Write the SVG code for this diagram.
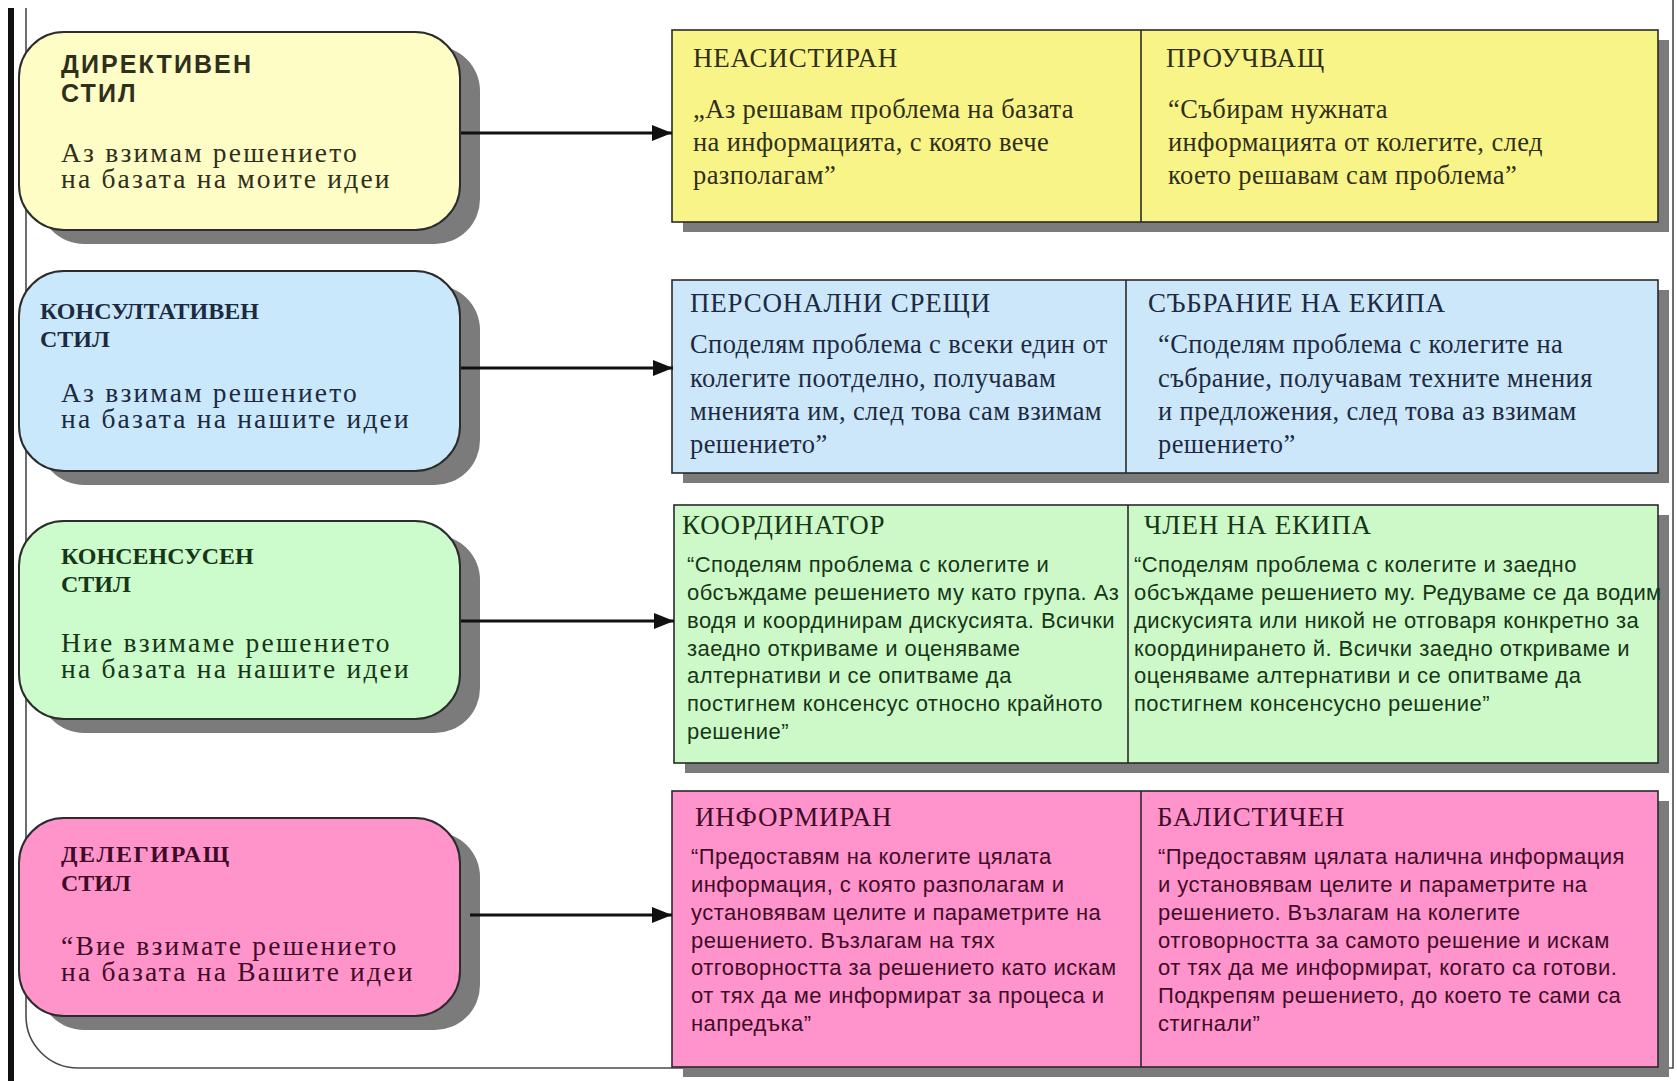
<svg xmlns="http://www.w3.org/2000/svg" width="1677" height="1081" viewBox="0 0 1677 1081">
<style>
.bg{fill:#ffffff}
.frame{fill:none;stroke:#4a4a4a;stroke-width:1.6}
.bar{fill:#111111}
.shadow{fill:#7b7b7b}
.node{stroke:#2c2c2c;stroke-width:2}
.box{stroke:#2a2a2a;stroke-width:1.6}
.div{stroke:#2a2a2a;stroke-width:1.6}
.title{font-family:"Liberation Serif","DejaVu Serif",serif;font-weight:bold;font-size:24px}
.title-sans{font-family:"Liberation Sans","DejaVu Sans",sans-serif;font-weight:bold;font-size:25px;letter-spacing:2.1px}
.lbody{font-family:"Liberation Serif","DejaVu Serif",serif;font-size:27.5px;letter-spacing:2.2px}
.head{font-family:"Liberation Serif","DejaVu Serif",serif;font-size:27px;letter-spacing:0.8px}
.sbody{font-family:"Liberation Serif","DejaVu Serif",serif;font-size:26.5px;letter-spacing:0.4px}
.nbody{font-family:"Liberation Sans","DejaVu Sans",sans-serif;font-size:22px;letter-spacing:0.45px}
.arrow{fill:none;stroke:#111111;stroke-width:3}
.y-t{fill:#2f2f1c}.b-t{fill:#1d2a40}.g-t{fill:#173617}.p-t{fill:#3f0c27}
</style>
<defs>
<marker id="ah" markerUnits="userSpaceOnUse" markerWidth="20" markerHeight="16" refX="20" refY="8" orient="auto">
<path d="M0,0 L20,8 L0,16 z" fill="#111111"/>
</marker>
</defs>
<rect class="bg" x="0" y="0" width="1677" height="1081"/>

<g id="frame">
<rect class="bar" x="8" y="8" width="6" height="1073"/>
<path class="frame" d="M26,8 V1016 A52,52 0 0 0 78,1068 H1673 V0"/>
</g>

<g id="node-directive">
<rect class="shadow" x="39" y="46" width="441" height="198" rx="45"/>
<rect class="node" x="19" y="32" width="441" height="198" rx="45" fill="#FFFDC6"/>
<text class="title-sans y-t" x="61" y="73">ДИРЕКТИВЕН</text>
<text class="title-sans y-t" x="61" y="102">СТИЛ</text>
<text class="lbody y-t" x="61" y="162">Аз взимам решението<tspan x="61" dy="26">на базата на моите идеи</tspan></text>
</g>

<g id="node-consultative">
<rect class="shadow" x="39" y="285" width="441" height="200" rx="45"/>
<rect class="node" x="19" y="271" width="441" height="200" rx="45" fill="#C9E8FB"/>
<text class="title b-t" x="40" y="319">КОНСУЛТАТИВЕН</text>
<text class="title b-t" x="40" y="347">СТИЛ</text>
<text class="lbody b-t" x="61" y="402">Аз взимам решението<tspan x="61" dy="26">на базата на нашите идеи</tspan></text>
</g>

<g id="node-consensus">
<rect class="shadow" x="39" y="535" width="441" height="198" rx="45"/>
<rect class="node" x="19" y="521" width="441" height="198" rx="45" fill="#CCFBCC"/>
<text class="title g-t" x="61" y="564">КОНСЕНСУСЕН</text>
<text class="title g-t" x="61" y="592">СТИЛ</text>
<text class="lbody g-t" x="61" y="652">Ние взимаме решението<tspan x="61" dy="26">на базата на нашите идеи</tspan></text>
</g>

<g id="node-delegating">
<rect class="shadow" x="39" y="832" width="441" height="198" rx="45"/>
<rect class="node" x="19" y="818" width="441" height="198" rx="45" fill="#FF94CB"/>
<text class="title p-t" x="61" y="862" letter-spacing="1.6">ДЕЛЕГИРАЩ</text>
<text class="title p-t" x="61" y="891">СТИЛ</text>
<text class="lbody p-t" x="61" y="955">“Вие взимате решението<tspan x="61" dy="26">на базата на Вашите идеи</tspan></text>
</g>

<g id="box-directive">
<rect class="shadow" x="683" y="40" width="986" height="192"/>
<rect class="box" x="672" y="30" width="986" height="192" fill="#F9F487"/>
<line class="div" x1="1141" y1="30" x2="1141" y2="222"/>
<text class="head y-t" x="693" y="67">НЕАСИСТИРАН</text>
<text class="sbody y-t" x="693" y="118">„Аз решавам проблема на базата</text>
<text class="sbody y-t" x="693" y="151">на информацията, с която вече</text>
<text class="sbody y-t" x="693" y="184">разполагам”</text>
<text class="head y-t" x="1166" y="67">ПРОУЧВАЩ</text>
<text class="sbody y-t" x="1168" y="118">“Събирам нужната</text>
<text class="sbody y-t" x="1168" y="151">информацията от колегите, след</text>
<text class="sbody y-t" x="1168" y="184">което решавам сам проблема”</text>
</g>

<g id="box-consultative">
<rect class="shadow" x="683" y="290" width="986" height="193"/>
<rect class="box" x="672" y="280" width="986" height="193" fill="#CCE7FA"/>
<line class="div" x1="1126" y1="280" x2="1126" y2="473"/>
<text class="head b-t" x="690" y="312">ПЕРСОНАЛНИ СРЕЩИ</text>
<text class="sbody b-t" x="690" y="353">Споделям проблема с всеки един от</text>
<text class="sbody b-t" x="690" y="387">колегите поотделно, получавам</text>
<text class="sbody b-t" x="690" y="420">мненията им, след това сам взимам</text>
<text class="sbody b-t" x="690" y="453">решението”</text>
<text class="head b-t" x="1148" y="312">СЪБРАНИЕ НА ЕКИПА</text>
<text class="sbody b-t" x="1158" y="353">“Споделям проблема с колегите на</text>
<text class="sbody b-t" x="1158" y="387">събрание, получавам техните мнения</text>
<text class="sbody b-t" x="1158" y="420">и предложения, след това аз взимам</text>
<text class="sbody b-t" x="1158" y="453">решението”</text>
</g>

<g id="box-consensus">
<rect class="shadow" x="685" y="515" width="984" height="258"/>
<rect class="box" x="674" y="505" width="984" height="258" fill="#CDF9C9"/>
<line class="div" x1="1128" y1="505" x2="1128" y2="763"/>
<text class="head g-t" x="682" y="534">КООРДИНАТОР</text>
<text class="nbody g-t" x="687" y="572">“Споделям проблема с колегите и</text>
<text class="nbody g-t" x="687" y="600">обсъждаме решението му като група. Аз</text>
<text class="nbody g-t" x="687" y="628">водя и координирам дискусията. Всички</text>
<text class="nbody g-t" x="687" y="656">заедно откриваме и оценяваме</text>
<text class="nbody g-t" x="687" y="683">алтернативи и се опитваме да</text>
<text class="nbody g-t" x="687" y="711">постигнем консенсус относно крайното</text>
<text class="nbody g-t" x="687" y="739">решение”</text>
<text class="head g-t" x="1144" y="534">ЧЛЕН НА ЕКИПА</text>
<text class="nbody g-t" x="1134" y="572">“Споделям проблема с колегите и заедно</text>
<text class="nbody g-t" x="1134" y="600">обсъждаме решението му. Редуваме се да водим</text>
<text class="nbody g-t" x="1134" y="628">дискусията или никой не отговаря конкретно за</text>
<text class="nbody g-t" x="1134" y="656">координирането й. Всички заедно откриваме и</text>
<text class="nbody g-t" x="1134" y="683">оценяваме алтернативи и се опитваме да</text>
<text class="nbody g-t" x="1134" y="711">постигнем консенсусно решение”</text>
</g>

<g id="box-delegating">
<rect class="shadow" x="683" y="801" width="986" height="276"/>
<rect class="box" x="672" y="791" width="986" height="276" fill="#FF93CB"/>
<line class="div" x1="1141" y1="791" x2="1141" y2="1067"/>
<text class="head p-t" x="695" y="826">ИНФОРМИРАН</text>
<text class="nbody p-t" x="691" y="864">“Предоставям на колегите цялата</text>
<text class="nbody p-t" x="691" y="892">информация, с която разполагам и</text>
<text class="nbody p-t" x="691" y="920">установявам целите и параметрите на</text>
<text class="nbody p-t" x="691" y="948">решението. Възлагам на тях</text>
<text class="nbody p-t" x="691" y="975">отговорността за решението като искам</text>
<text class="nbody p-t" x="691" y="1003">от тях да ме информират за процеса и</text>
<text class="nbody p-t" x="691" y="1031">напредъка”</text>
<text class="head p-t" x="1157" y="826">БАЛИСТИЧЕН</text>
<text class="nbody p-t" x="1158" y="864">“Предоставям цялата налична информация</text>
<text class="nbody p-t" x="1158" y="892">и установявам целите и параметрите на</text>
<text class="nbody p-t" x="1158" y="920">решението. Възлагам на колегите</text>
<text class="nbody p-t" x="1158" y="948">отговорността за самото решение и искам</text>
<text class="nbody p-t" x="1158" y="975">от тях да ме информират, когато са готови.</text>
<text class="nbody p-t" x="1158" y="1003">Подкрепям решението, до което те сами са</text>
<text class="nbody p-t" x="1158" y="1031">стигнали”</text>
</g>

<g id="connectors">
<line class="arrow" x1="461" y1="133" x2="672" y2="133" marker-end="url(#ah)"/>
<line class="arrow" x1="461" y1="368" x2="673" y2="368" marker-end="url(#ah)"/>
<line class="arrow" x1="461" y1="621" x2="674" y2="621" marker-end="url(#ah)"/>
<line class="arrow" x1="470" y1="915" x2="672" y2="915" marker-end="url(#ah)"/>
</g>
</svg>
